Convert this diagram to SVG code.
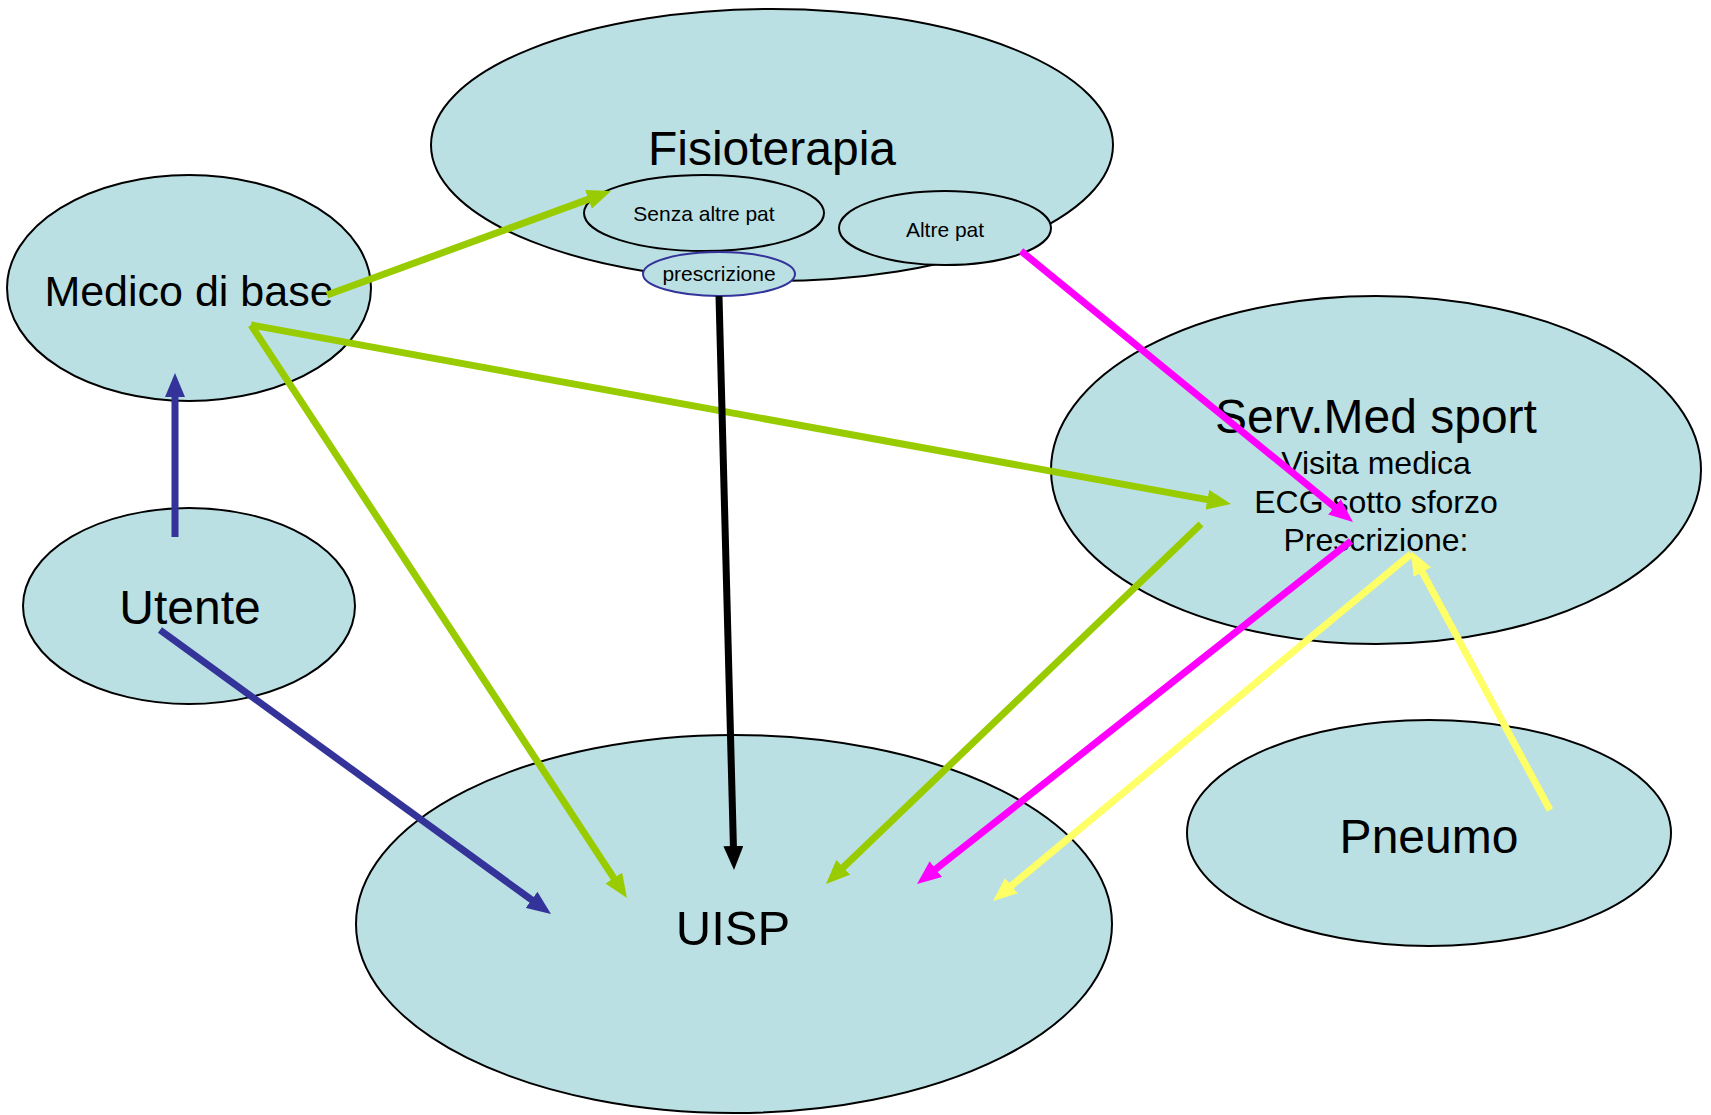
<svg xmlns="http://www.w3.org/2000/svg" width="1711" height="1115" viewBox="0 0 1711 1115">
<style>
.n{fill:#BBE0E3;stroke:#000;stroke-width:2}
.t{font-family:"Liberation Sans",Arial,sans-serif;fill:#000;text-anchor:middle}
.big{font-size:48px}
.mid{font-size:32px}
.sm{font-size:21px}
.c{fill:none;stroke-width:7;stroke-linecap:butt}
</style>
<defs>
<marker id="ag" viewBox="0 0 24 20" refX="4" refY="10" markerWidth="24" markerHeight="20" markerUnits="userSpaceOnUse" orient="auto"><path d="M0,0 L24,10 L0,20 z" fill="#99CC00"/></marker>
<marker id="ab" viewBox="0 0 24 20" refX="4" refY="10" markerWidth="24" markerHeight="20" markerUnits="userSpaceOnUse" orient="auto"><path d="M0,0 L24,10 L0,20 z" fill="#333399"/></marker>
<marker id="ak" viewBox="0 0 24 20" refX="4" refY="10" markerWidth="24" markerHeight="20" markerUnits="userSpaceOnUse" orient="auto"><path d="M0,0 L24,10 L0,20 z" fill="#000"/></marker>
<marker id="am" viewBox="0 0 24 20" refX="4" refY="10" markerWidth="24" markerHeight="20" markerUnits="userSpaceOnUse" orient="auto"><path d="M0,0 L24,10 L0,20 z" fill="#FF00FF"/></marker>
<marker id="ay" viewBox="0 0 24 20" refX="4" refY="10" markerWidth="24" markerHeight="20" markerUnits="userSpaceOnUse" orient="auto"><path d="M0,0 L24,10 L0,20 z" fill="#FFFF66"/></marker>
</defs>
<rect width="1711" height="1115" fill="#fff"/>
<g id="fisioterapia">
<ellipse class="n" cx="772" cy="145" rx="341" ry="136"/>
<text class="t big" x="772" y="165">Fisioterapia</text>
</g>
<g id="senza-altre-pat">
<ellipse class="n" cx="704" cy="213" rx="120" ry="38"/>
<text class="t sm" x="704" y="221">Senza altre pat</text>
</g>
<g id="altre-pat">
<ellipse class="n" cx="945" cy="228" rx="106" ry="37"/>
<text class="t sm" x="945" y="237">Altre pat</text>
</g>
<g id="prescrizione">
<ellipse class="n" cx="719" cy="274" rx="76" ry="22" style="stroke:#333399"/>
<text class="t sm" x="719" y="281">prescrizione</text>
</g>
<g id="medico">
<ellipse class="n" cx="189" cy="288" rx="182" ry="113"/>
<text class="t" x="189" y="306" style="font-size:43px">Medico di base</text>
</g>
<g id="utente">
<ellipse class="n" cx="189" cy="606" rx="166" ry="98"/>
<text class="t big" x="190" y="624">Utente</text>
</g>
<g id="servmed">
<ellipse class="n" cx="1376" cy="470" rx="325" ry="174"/>
<text class="t big" x="1376" y="433">Serv.Med sport</text>
<text class="t mid" x="1376" y="474">Visita medica</text>
<text class="t mid" x="1376" y="513">ECG sotto sforzo</text>
<text class="t mid" x="1376" y="551">Prescrizione:</text>
</g>
<g id="pneumo">
<ellipse class="n" cx="1429" cy="833" rx="242" ry="113"/>
<text class="t big" x="1429" y="853">Pneumo</text>
</g>
<g id="uisp">
<ellipse class="n" cx="734" cy="924" rx="378" ry="189"/>
<text class="t big" x="733" y="945" style="font-size:49px">UISP</text>
</g>
<g id="connectors">
<line class="c" x1="327" y1="295" x2="592.2" y2="197.9" stroke="#99CC00" marker-end="url(#ag)"/>
<line class="c" x1="251" y1="325" x2="1211.3" y2="500.4" stroke="#99CC00" marker-end="url(#ag)"/>
<line class="c" x1="251" y1="325" x2="616" y2="881.3" stroke="#99CC00" marker-end="url(#ag)"/>
<line class="c" x1="175" y1="537" x2="175" y2="393" stroke="#333399" marker-end="url(#ab)"/>
<line class="c" x1="160" y1="630" x2="534.8" y2="902.2" stroke="#333399" marker-end="url(#ab)"/>
<line class="c" x1="719" y1="296" x2="733.5" y2="850" stroke="#000" marker-end="url(#ak)"/>
<line class="c" x1="1021" y1="251" x2="1337.5" y2="509.4" stroke="#FF00FF" marker-end="url(#am)"/>
<line class="c" x1="1351" y1="541" x2="932.7" y2="871.6" stroke="#FF00FF" marker-end="url(#am)"/>
<line class="c" x1="1201" y1="524" x2="840.4" y2="870.1" stroke="#99CC00" marker-end="url(#ag)"/>
<line class="c" x1="1411" y1="554" x2="1008.4" y2="888.2" stroke="#FFFF66" marker-end="url(#ay)"/>
<line class="c" x1="1550" y1="810" x2="1420.5" y2="568.6" stroke="#FFFF66" marker-end="url(#ay)"/>
</g>
</svg>
